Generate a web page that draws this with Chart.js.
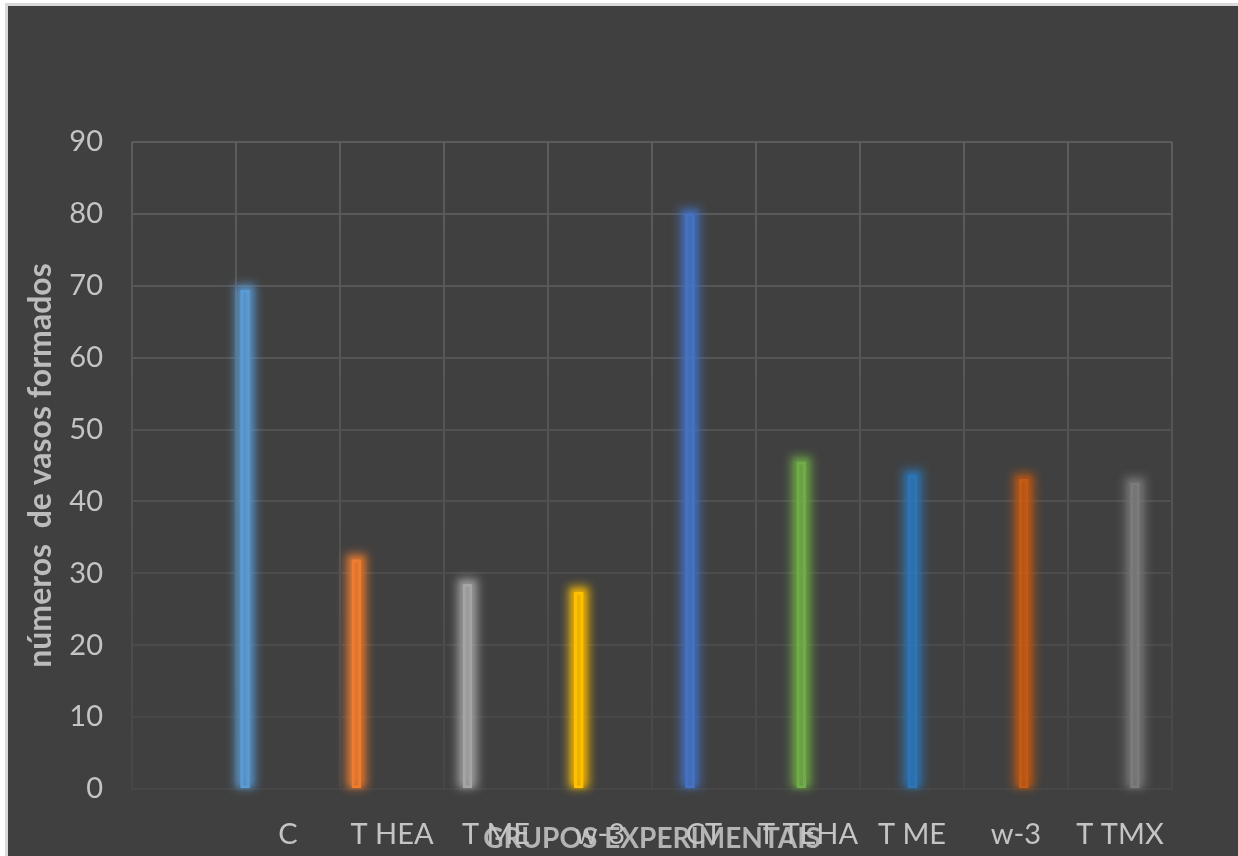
<!DOCTYPE html>
<html>
<head>
<meta charset="utf-8">
<script src="https://cdn.jsdelivr.net/npm/chart.js@4/dist/chart.umd.min.js"></script>
<style>
  html, body { margin: 0; padding: 0; background: #ffffff; width: 1238px; height: 856px; overflow: hidden; }
  #frame { position: absolute; left: 5px; top: 3px; width: 1233px; height: 853px; background: #d9d9d9; }
  #panel { position: absolute; left: 8px; top: 6px; width: 1230px; height: 850px; background: #404040; }
  #wrap { position: absolute; left: 0; top: 0; width: 1238px; height: 856px; }
</style>
</head>
<body>
<div id="frame"></div>
<div id="panel"></div>
<div id="wrap"><canvas id="chart" width="1238" height="856"></canvas></div>
<script>
// Experimental groups and the number of vessels formed in each
const groups = ['C', 'T HEA', 'T ME', 'w-3', 'CT', 'T TEHA', 'T ME', 'w-3', 'T TMX'];
const vessels = [69.4, 31.9, 28.5, 27.4, 80.0, 45.5, 43.7, 43.1, 42.6];
const barColors = ['#5b9bd5', '#ed7d31', '#a5a5a5', '#ffc000', '#4472c4', '#70ad47', '#2e75b6', '#c55a11', '#7b7b7b'];
// Category axis labels (first column is left blank)
const axisLabels = [''].concat(groups);
const yMin = 0, yMax = 90, yStep = 10;

function rgba(hex, a) {
  const n = parseInt(hex.slice(1), 16);
  return 'rgba(' + ((n >> 16) & 255) + ',' + ((n >> 8) & 255) + ',' + (n & 255) + ',' + a + ')';
}

// Soft halo behind each bar
const barGlow = {
  id: 'barGlow',
  beforeDatasetsDraw(chart) {
    const ctx = chart.ctx;
    const meta = chart.getDatasetMeta(0);
    meta.data.forEach((bar, i) => {
      const p = bar.getProps(['x', 'y', 'base', 'width'], true);
      const c = barColors[i];
      ctx.save();
      ctx.filter = 'blur(5px)';
      ctx.fillStyle = rgba(c, 0.75);
      ctx.fillRect(p.x - p.width / 2 - 6, p.y - 6, p.width + 12, p.base - p.y + 6);
      ctx.filter = 'blur(2px)';
      ctx.fillStyle = rgba(c, 0.35);
      ctx.fillRect(p.x - p.width / 2 - 3, p.y - 3, p.width + 6, p.base - p.y + 3);
      ctx.restore();
    });
  }
};

const FONT = "Lato, 'Open Sans', 'DejaVu Sans', sans-serif";

function fadeColor(t) {
  // t = 0 at top of plot, 1 at the bottom
  const top = 0x5c, bottom = 0x46;
  const v = Math.round(top + (bottom - top) * t);
  return 'rgb(' + v + ',' + v + ',' + v + ')';
}

new Chart(document.getElementById('chart'), {
  type: 'bar',
  data: {
    labels: axisLabels,
    datasets: [{
      data: groups.map((g, i) => ({ x: i, y: vessels[i] })),
      xAxisID: 'xb',
      yAxisID: 'y',
      backgroundColor: barColors.map(c => rgba(c, 0.4)),
      borderColor: barColors,
      borderWidth: 2.5,
      borderSkipped: false,
      barThickness: 9
    }]
  },
  options: {
    responsive: false,
    animation: false,
    events: [],
    layout: { padding: { top: 142, right: 66, bottom: 0, left: 0 } },
    plugins: { legend: { display: false }, tooltip: { enabled: false } },
    scales: {
      x: {
        type: 'category',
        position: 'bottom',
        offset: true,
        grid: {
          offset: true,
          drawTicks: false,
          lineWidth: 2,
          color: (ctx) => {
            const ch = ctx.chart;
            const a = ch.chartArea;
            if (!a) return '#5a5a5a';
            const g = ch.ctx.createLinearGradient(0, a.top, 0, a.bottom);
            g.addColorStop(0, fadeColor(0));
            g.addColorStop(0.6, fadeColor(0.45));
            g.addColorStop(1, fadeColor(1));
            return g;
          }
        },
        border: { display: false },
        ticks: {
          color: '#c4c4c4',
          font: { family: FONT, size: 29 },
          padding: 28,
          maxRotation: 0,
          autoSkip: false
        },
        title: {
          display: true,
          text: 'GRUPOS EXPERIMENTAIS',
          color: '#b4b4b4',
          font: { family: FONT, size: 28, weight: 'bold' },
          padding: { top: 0, bottom: 0 }
        },
        afterFit(scale) { scale.height = 67; }
      },
      xb: {
        type: 'linear',
        display: false,
        offset: false,
        min: -1.016,
        max: 8.333
      },
      y: {
        min: yMin,
        max: yMax,
        ticks: {
          stepSize: yStep,
          color: '#c4c4c4',
          font: { family: FONT, size: 29 },
          padding: 29
        },
        grid: {
          drawTicks: false,
          lineWidth: 2,
          color: (ctx) => fadeColor(1 - (ctx.tick ? ctx.tick.value : 0) / yMax)
        },
        border: { display: false },
        title: {
          display: true,
          text: 'números  de vasos formados',
          color: '#bcbcbc',
          font: { family: FONT, size: 32, weight: 'bold' },
          padding: { top: 21, bottom: 0 }
        },
        afterFit(scale) { scale.width = 132; }
      }
    }
  },
  plugins: [barGlow]
});
</script>
</body>
</html>
